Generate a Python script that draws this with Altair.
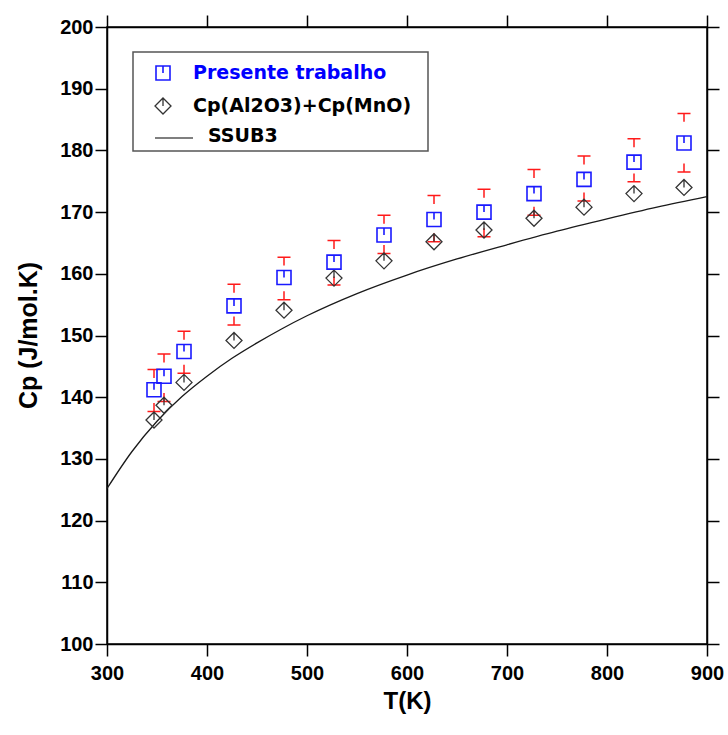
import altair as alt
import pandas as pd

# Measured heat capacity (squares) with the limits of its error bars
temps = [347, 357, 377, 427, 477, 527, 577, 627, 677, 727, 777, 827, 877]
cp_presente = [141.2, 143.4, 147.4, 154.8, 159.4, 161.9, 166.3, 168.8, 170.0, 173.0, 175.3, 178.1, 181.2]
cp_low = [137.7, 139.3, 143.9, 151.7, 155.8, 158.2, 163.3, 165.2, 166.0, 169.5, 171.8, 174.9, 176.5]
cp_high = [144.5, 147.0, 150.7, 158.3, 162.7, 165.4, 169.5, 172.7, 173.7, 176.9, 179.1, 181.9, 186.0]
# Sum of the oxide heat capacities (diamonds)
cp_soma = [136.3, 138.7, 142.4, 149.2, 154.1, 159.3, 162.1, 165.2, 167.1, 169.0, 170.8, 173.0, 174.0]

# SSUB3 database curve
ssub3_t = [300, 325, 350, 375, 400, 425, 450, 475, 500, 550, 600, 650, 700, 750, 800, 850, 900]
ssub3_cp = [125.2, 131.2, 136.1, 140.1, 143.4, 146.3, 148.8, 151.1, 153.2, 156.8,
            159.8, 162.4, 164.7, 166.9, 168.9, 170.8, 172.5]

legend_labels = ["Presente trabalho", "Cp(Al2O3)+Cp(MnO)", "SSUB3"]
x_ticks = [300, 400, 500, 600, 700, 800, 900]
y_ticks = [100, 110, 120, 130, 140, 150, 160, 170, 180, 190, 200]

pts = pd.DataFrame({"T": temps, "cp": cp_presente, "lo": cp_low, "hi": cp_high, "soma": cp_soma})
curve = pd.DataFrame({"T": ssub3_t, "cp": ssub3_cp})

SQUARE = "M-1,-1H1V1H-1Z M0,-1V0"
DIAMOND = "M0,-1L1,0L0,1L-1,0Z M0,-1V0"
CAP_TOP = "M-1,0H1M0,0V1.3"
CAP_BOTTOM = "M-1,0H1M0,0V-1.3"

xscale = alt.Scale(domain=[300, 900], nice=False, zero=False)
yscale = alt.Scale(domain=[100, 200], nice=False, zero=False)

FONT = "Liberation Sans"

x_bottom = alt.Axis(values=x_ticks, title="T(K)", titleFontSize=24, titleY=57,
                    titleBaseline="middle", labelBaseline="middle", labelPadding=17,
                    labelFlush=False)
y_left = alt.Axis(values=y_ticks, title="Cp (J/mol.K)", titleFontSize=25, titleX=-79,
                  titleY=308, titleAngle=-90, titleBaseline="middle", titleAlign="center",
                  labelPadding=2, labelFlush=False)
x_top = alt.Axis(values=x_ticks, orient="top", labels=False, title=None)
y_right = alt.Axis(values=y_ticks, orient="right", labels=False, title=None)

line = alt.Chart(curve).mark_line(color="#1a1a1a", strokeWidth=1.3,
                                  interpolate="monotone").encode(
    x=alt.X("T:Q", scale=xscale, axis=x_bottom),
    y=alt.Y("cp:Q", scale=yscale, axis=y_left),
)

base = alt.Chart(pts)

cap_hi = base.mark_point(shape=CAP_TOP, size=169, filled=False, color="#ff1a1a",
                         strokeWidth=1.5, opacity=1).encode(
    x=alt.X("T:Q", scale=xscale, axis=None),
    y=alt.Y("hi:Q", scale=yscale, axis=None),
)
cap_lo = base.mark_point(shape=CAP_BOTTOM, size=169, filled=False, color="#ff1a1a",
                         strokeWidth=1.5, opacity=1).encode(
    x=alt.X("T:Q", scale=xscale, axis=None),
    y=alt.Y("lo:Q", scale=yscale, axis=None),
)
diamonds = base.mark_point(shape=DIAMOND, size=256, filled=False, stroke="#333333",
                           strokeWidth=1.3, opacity=1).encode(
    x=alt.X("T:Q", scale=xscale, axis=x_top),
    y=alt.Y("soma:Q", scale=yscale, axis=y_right),
)
squares = base.mark_point(shape=SQUARE, size=196, filled=False, stroke="#1a1aff",
                          strokeWidth=1.6, opacity=1).encode(
    x=alt.X("T:Q", scale=xscale, axis=None),
    y=alt.Y("cp:Q", scale=yscale, axis=None),
)

# Legend box and entries
one = pd.DataFrame({"k": [0]})
leg_box = alt.Chart(one).mark_rect(fill="white", stroke="#555555", strokeWidth=1.5).encode(
    x=alt.value(26), x2=alt.value(321), y=alt.value(25), y2=alt.value(124))
leg_sq = alt.Chart(one).mark_point(shape=SQUARE, size=196, filled=False, stroke="#1a1aff",
                                   strokeWidth=1.6, opacity=1).encode(
    x=alt.value(56), y=alt.value(46))
leg_di = alt.Chart(one).mark_point(shape=DIAMOND, size=256, filled=False, stroke="#333333",
                                   strokeWidth=1.3, opacity=1).encode(
    x=alt.value(56), y=alt.value(79))
leg_ln = alt.Chart(one).mark_rule(color="#555555", strokeWidth=1.5).encode(
    x=alt.value(48), x2=alt.value(86), y=alt.value(111))


def leg_text(label, x, y, color):
    return alt.Chart(pd.DataFrame({"label": [label]})).mark_text(
        align="left", baseline="middle", font="DejaVu Sans", fontWeight="bold",
        fontSize=19, color=color).encode(text="label:N", x=alt.value(x), y=alt.value(y))


leg_t1 = leg_text(legend_labels[0], 86, 46, "#0000ff")
leg_t2 = leg_text(legend_labels[1], 86, 79, "black")
leg_t3 = leg_text(legend_labels[2], 101, 109, "black")

chart = alt.layer(
    line, cap_hi, cap_lo, diamonds, squares,
    leg_box, leg_sq, leg_di, leg_ln, leg_t1, leg_t2, leg_t3,
).resolve_axis(x="independent", y="independent").properties(
    width=600, height=617,
    autosize=alt.AutoSizeParams(type="none"),
    padding={"left": 107, "top": 27, "right": 21, "bottom": 91},
    background="white",
).configure_view(
    stroke="black", strokeWidth=1.5,
).configure_axis(
    grid=False, domainColor="black", domainWidth=1.5, tickColor="black", tickWidth=1.5,
    tickSize=12, labelFont=FONT, labelFontWeight="bold", labelFontSize=20,
    labelColor="black", titleFont=FONT, titleFontWeight="bold", titleColor="black",
)

chart.save("out.html", embed_options={"renderer": "svg", "actions": False})
